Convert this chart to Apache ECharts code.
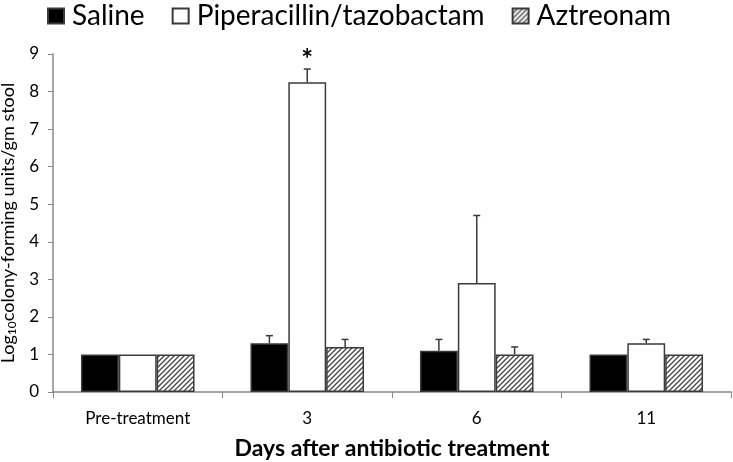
<!DOCTYPE html>
<html><head><meta charset="utf-8">
<script src="https://cdn.jsdelivr.net/npm/echarts@6/dist/echarts.min.js"></script>
<style>html,body{margin:0;padding:0;background:#fff}#c{width:733px;height:462px}</style>
</head><body><div id="c"></div>
<script>
const categories = ['Pre-treatment', '3', '6', '11'];
const seriesNames = ['Saline', 'Piperacillin/tazobactam', 'Aztreonam'];
const saline = [1.0, 1.3, 1.1, 1.0];
const salineErr = [0, 0.2, 0.3, 0];
const pip = [1.0, 8.25, 2.9, 1.3];
const pipErr = [0, 0.35, 1.8, 0.1];
const azt = [1.0, 1.2, 1.0, 1.0];
const aztErr = [0, 0.2, 0.2, 0];
const pipSig = ['', '*', '', ''];
const yTicks = [0, 1, 2, 3, 4, 5, 6, 7, 8, 9];

const FONT = 'Lato';
const EDGE = '#3a3a3a';

// hatch pattern
const pc = document.createElement('canvas');
pc.width = 5; pc.height = 5;
const g = pc.getContext('2d');
g.fillStyle = '#fff'; g.fillRect(0, 0, 5, 5);
g.strokeStyle = '#444'; g.lineWidth = 1.3;
g.beginPath();
g.moveTo(-1, 6); g.lineTo(6, -1);
g.moveTo(-6, 6); g.lineTo(1, -1);
g.moveTo(4, 6); g.lineTo(11, -1);
g.stroke();

const values = [saline, pip, azt];
const errs = [salineErr, pipErr, aztErr];
const fills = ['#000000', '#ffffff', {image: pc, repeat: 'repeat'}];

const errData = [];
for (let s = 0; s < 3; s++) {
  for (let i = 0; i < categories.length; i++) {
    errData.push([i, values[s][i], errs[s][i], s, s === 1 ? pipSig[i] : '']);
  }
}

const GAP = 0.33;
const chart = echarts.init(document.getElementById('c'));
chart.setOption({
  animation: false,
  textStyle: {fontFamily: FONT},
  grid: {left: 53, right: 2, top: 54, bottom: 70, containLabel: false, outerBoundsMode: 'none'},
  legend: {
    data: seriesNames, left: 42, top: -3, width: 690, icon: 'rect', itemWidth: 16, itemHeight: 15, itemGap: 27,
    textStyle: {fontSize: 28, color: '#000', fontFamily: FONT, padding: [0, 0, 0, 3]}
  },
  xAxis: {
    type: 'category', data: categories,
    name: 'Days after antibiotic treatment', nameLocation: 'middle', nameGap: 45,
    nameTextStyle: {fontSize: 23, fontWeight: 'bold', color: '#000', fontFamily: FONT},
    axisLine: {lineStyle: {color: '#888', width: 1.5}},
    axisTick: {show: true, inside: false, length: 6, lineStyle: {color: '#888'}},
    axisLabel: {fontSize: 17, color: '#000', margin: 18}
  },
  yAxis: {
    type: 'value', min: yTicks[0], max: yTicks[yTicks.length - 1], interval: 1,
    name: '{a|Log}{s|10}{a|colony-forming units/gm stool}',
    nameLocation: 'middle', nameRotate: 90, nameGap: 32,
    nameTextStyle: {
      color: '#000', fontFamily: FONT,
      rich: {
        a: {fontSize: 18, color: '#000', fontFamily: FONT, lineHeight: 20},
        s: {fontSize: 12, color: '#000', fontFamily: FONT, lineHeight: 20, verticalAlign: 'bottom', padding: [8, 0, 0, 0]}
      }
    },
    splitLine: {show: false},
    axisLine: {show: true, lineStyle: {color: '#888', width: 1.5}},
    axisTick: {show: true, length: 5, lineStyle: {color: '#888'}},
    axisLabel: {fontSize: 17, color: '#000', margin: 14}
  },
  series: seriesNames.map((n, s) => ({
    name: n, type: 'bar', data: values[s],
    barGap: '0%', barCategoryGap: (GAP * 100) + '%',
    itemStyle: {color: fills[s], borderColor: EDGE, borderWidth: 1.5}
  })).concat([{
    type: 'custom', z: 5, silent: true,
    encode: {x: 0, y: 1},
    data: errData,
    renderItem: function (params, api) {
      const x = api.value(0), v = api.value(1), e = api.value(2), s = api.value(3);
      const sig = errData[params.dataIndex][4];
      const band = api.size([1, 0])[0];
      const bw = band * (1 - GAP) / 3;
      const off = (s - 1) * bw;
      const base = api.coord([x, v]);
      const top = api.coord([x, v + e]);
      const cx = base[0] + off;
      const children = [];
      if (e > 0) {
        children.push({type: 'line', shape: {x1: cx, y1: base[1], x2: cx, y2: top[1]},
          style: {stroke: EDGE, lineWidth: 1.5}});
        children.push({type: 'line', shape: {x1: cx - 3.5, y1: top[1], x2: cx + 3.5, y2: top[1]},
          style: {stroke: EDGE, lineWidth: 1.5}});
      }
      if (sig) {
        children.push({type: 'text', x: cx, y: top[1] + 5,
          style: {text: sig, fontSize: 28, fontWeight: 'bold', fontFamily: FONT, fill: '#000', align: 'center', verticalAlign: 'bottom'}});
      }
      return {type: 'group', children: children};
    }
  }])
});
</script>
</body></html>
